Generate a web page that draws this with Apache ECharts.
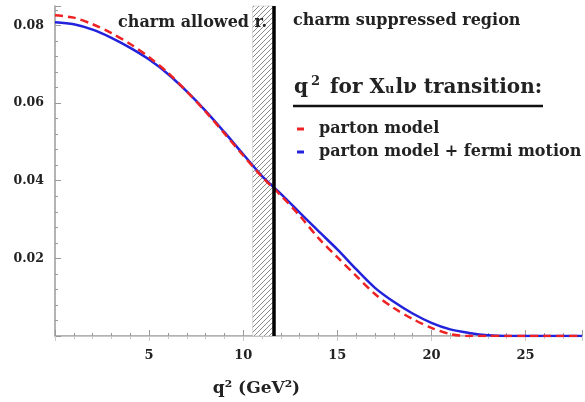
<!DOCTYPE html>
<html><head><meta charset="utf-8">
<script src="https://cdn.jsdelivr.net/npm/echarts@6/dist/echarts.min.js"></script>
<style>html,body{margin:0;padding:0;background:#fff}#c{width:585px;height:402px}</style>
</head><body><div id="c"></div>
<script>
const qValues = [0,1,2,3,4,5,6,7,8,9,10,11,12,13,14,15,16,17,18,19,20,21,22,23,24,25,26,27,28];
const partonModel = [0.0826,0.0820,0.0803,0.0780,0.0752,0.0718,0.0678,0.0630,0.0578,0.0522,0.0465,0.0410,0.0362,0.0310,0.0252,0.0203,0.0155,0.0108,0.0072,0.0044,0.0021,0.0005,0,0,0,0,0,0,0];
const fermiMotion = [0.0808,0.0803,0.0789,0.0768,0.0742,0.0712,0.0675,0.0630,0.0580,0.0525,0.0468,0.0412,0.0366,0.0318,0.0270,0.0223,0.0172,0.0124,0.0088,0.0058,0.0034,0.0017,0.0008,0.0002,0,0,0,0,0];
const seriesNames = ['parton model','parton model + fermi motion'];
const charmBand = [10.5, 11.6];
const charmCut = 11.6;
const xTicks = [5,10,15,20,25];
const yTicks = [0.02,0.04,0.06,0.08];

const FONT = 'DejaVu Serif';
// hatch pattern
const pc = document.createElement('canvas');
pc.width = 5; pc.height = 5;
const pctx = pc.getContext('2d');
pctx.fillStyle = '#fff'; pctx.fillRect(0,0,5,5);
pctx.strokeStyle = '#8a8a8a'; pctx.lineWidth = 1;
pctx.beginPath();
pctx.moveTo(0,5); pctx.lineTo(5,0);
pctx.moveTo(-2.5,2.5); pctx.lineTo(2.5,-2.5);
pctx.moveTo(2.5,7.5); pctx.lineTo(7.5,2.5);
pctx.stroke();

const chart = echarts.init(document.getElementById('c'), null, {renderer:'canvas'});
const axisGrey = '#9a9a9a';
chart.setOption({
  animation:false,
  grid:{left:55,right:0,top:6,bottom:60},
  xAxis:[{
    type:'value', min:0, max:28, interval:5,
    axisLine:{show:true,onZero:false,lineStyle:{color:axisGrey,width:1.5}},
    axisTick:{show:true,inside:true,length:6,lineStyle:{color:axisGrey}},
    minorTick:{show:true,splitNumber:5,length:3,lineStyle:{color:axisGrey}},
    splitLine:{show:false},
    axisLabel:{margin:13,fontFamily:FONT,fontWeight:'bold',fontSize:13,color:'#222',
      formatter:v=>xTicks.includes(v)?String(v):''},
    name:'q\u00B2 (GeV\u00B2)', nameLocation:'middle', nameGap:44,
    nameTextStyle:{fontFamily:FONT,fontWeight:'bold',fontSize:17,color:'#222',padding:[0,124,0,0]}
  },{
    type:'value', min:0, max:28, interval:5, position:'top',
    axisLine:{show:true,lineStyle:{color:'#c8c8c8',width:1}},
    axisTick:{show:true,inside:true,length:5,lineStyle:{color:'#c8c8c8'}},
    minorTick:{show:true,splitNumber:5,length:3,lineStyle:{color:'#c8c8c8'}},
    axisLabel:{show:false}, splitLine:{show:false}
  }],
  yAxis:{
    type:'value', min:0, max:0.085, interval:0.02,
    axisLine:{show:true,onZero:false,lineStyle:{color:axisGrey,width:1.5}},
    axisTick:{show:true,inside:true,length:6,lineStyle:{color:axisGrey}},
    minorTick:{show:true,splitNumber:5,length:3,lineStyle:{color:axisGrey}},
    splitLine:{show:false},
    axisLabel:{margin:11,fontFamily:FONT,fontWeight:'bold',fontSize:12.5,color:'#222',
      formatter:v=>yTicks.some(t=>Math.abs(t-v)<1e-9)?v.toFixed(2):''}
  },
  legend:{
    orient:'vertical', left:292, top:116, itemGap:7,
    icon:'rect', itemWidth:7, itemHeight:3,
    textStyle:{fontFamily:FONT,fontWeight:'bold',fontSize:16,color:'#222',padding:[0,0,0,10]},
    data:[{name:seriesNames[0],itemStyle:{color:'#ee2222'}},{name:seriesNames[1],itemStyle:{color:'#2222dd'}}]
  },
  series:[
    {
      name:'band', type:'line', data:[], silent:true,
      markArea:{silent:true, itemStyle:{color:{image:pc,repeat:'repeat'},borderColor:'#bbb',borderWidth:0.5},
        data:[[{xAxis:charmBand[0],yAxis:0},{xAxis:charmBand[1],yAxis:0.085}]]},
      markLine:{silent:true,symbol:'none',label:{show:false},
        lineStyle:{color:'#000',width:3.5,type:'solid'},
        data:[[{coord:[charmCut,0]},{coord:[charmCut,0.085]}]]}
    },
    {
      name:seriesNames[1], type:'line', smooth:0.3, showSymbol:false,
      lineStyle:{color:'#2222dd',width:2.5}, itemStyle:{color:'#2222dd'},
      data:qValues.map((q,i)=>[q,fermiMotion[i]]), z:3
    },
    {
      name:seriesNames[0], type:'line', smooth:0.3, showSymbol:false,
      lineStyle:{color:'#ee2222',width:2.5,type:[8,5]}, itemStyle:{color:'#ee2222'},
      data:qValues.map((q,i)=>[q,partonModel[i]]), z:4
    }
  ],
  graphic:[
    {type:'text', z:100, left:118, top:15, style:{text:'charm allowed r.', font:'bold 16px "DejaVu Serif"', fill:'#222'}},
    {type:'text', z:100, left:293, top:13, style:{text:'charm suppressed region', font:'bold 16px "DejaVu Serif"', fill:'#222'}},
    {type:'text', z:100, left:294, top:75, style:{
      text:'{a|q}{sup|2}{a| for X}{sub|u}{a|l\u03BD transition:}',
      rich:{
        a:{fontFamily:FONT,fontWeight:'bold',fontSize:20,fill:'#222',verticalAlign:'bottom'},
        sup:{fontFamily:FONT,fontWeight:'bold',fontSize:13,fill:'#222',padding:[0,3,10,3]},
        sub:{fontFamily:FONT,fontWeight:'bold',fontSize:13,fill:'#222',padding:[0,1,-6,0]}
      }}},
    {type:'line', z:100, shape:{x1:293,y1:106,x2:543,y2:106}, style:{stroke:'#111',lineWidth:2.5}}
  ]
});
</script></body></html>
